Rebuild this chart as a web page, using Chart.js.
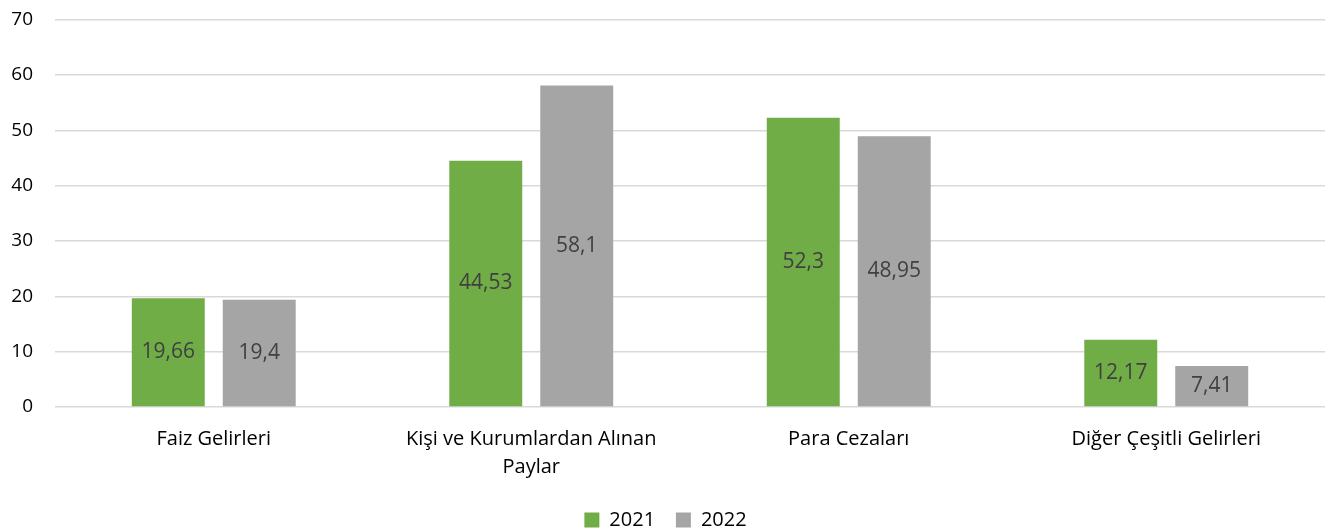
<!DOCTYPE html>
<html>
<head>
<meta charset="utf-8">
<script src="https://cdn.jsdelivr.net/npm/chart.js@4"></script>
<style>
  html, body { margin: 0; padding: 0; background: #fff; overflow: hidden; }
  #wrap { position: relative; top: -7px; width: 1338px; height: 547px; }
</style>
</head>
<body>
<div id="wrap"><canvas id="chart"></canvas></div>
<script>
const categories = ["Faiz Gelirleri", ["Kişi ve Kurumlardan Alınan", "Paylar"], "Para Cezaları", "Diğer Çeşitli Gelirleri"];
const values2021 = [19.66, 44.53, 52.3, 12.17];
const values2022 = [19.4, 58.1, 48.95, 7.41];
const yTicks = [0, 10, 20, 30, 40, 50, 60, 70];

const FONT = "'Open Sans', 'Noto Sans', sans-serif";

// Draws the value in the middle of each bar, comma as decimal mark
const barLabels = {
    id: "barLabels",
    afterDatasetsDraw(chart) {
        const ctx = chart.ctx;
        ctx.save();
        ctx.font = "21px " + FONT;
        ctx.fillStyle = "#404040";
        ctx.textAlign = "center";
        ctx.textBaseline = "middle";
        chart.data.datasets.forEach((ds, i) => {
            chart.getDatasetMeta(i).data.forEach((bar, j) => {
                const txt = String(ds.data[j]).replace(".", ",");
                ctx.fillText(txt, bar.x, (bar.y + bar.base) / 2);
            });
        });
        ctx.restore();
    },
};

new Chart("chart", {
    type: "bar",
    data: {
        labels: categories,
        datasets: [{
            label: "2021",
            data: values2021,
            backgroundColor: "#70ad47",
        }, {
            label: "2022",
            data: values2022,
            backgroundColor: "#a5a5a5",
        }],
    },
    options: {
        responsive: true,
        maintainAspectRatio: false,
        animation: false,
        categoryPercentage: 0.573,
        barPercentage: 0.802,
        layout: { padding: { top: 0, right: 13, left: 6, bottom: 0 } },
        scales: {
            x: {
                grid: { display: false },
                border: { display: false },
                ticks: {
                    color: "#000",
                    font: { family: FONT, size: 20, lineHeight: 1.4 },
                    padding: 10,
                    maxRotation: 0,
                    minRotation: 0,
                },
                afterFit(scale) { scale.height = 103; },
            },
            y: {
                min: 0,
                max: 70,
                afterBuildTicks(scale) { scale.ticks = yTicks.map(v => ({ value: v })); },
                grid: { color: "#d9d9d9", lineWidth: 1.6, drawTicks: false },
                border: { display: false },
                ticks: {
                    color: "#000",
                    font: { family: FONT, size: 19, lineHeight: 0.5 },
                    padding: 22,
                },
                afterFit(scale) { scale.width = 49; },
            },
        },
        plugins: {
            legend: {
                position: "bottom",
                labels: {
                    color: "#000",
                    font: { family: FONT, size: 20, lineHeight: 1 },
                    boxWidth: 15,
                    boxHeight: 15,
                    padding: 0,
                    // pad the gap between the two entries
                    generateLabels(chart) {
                        const items = Chart.defaults.plugins.legend.labels.generateLabels(chart);
                        items.forEach((it, i) => {
                            if (i < items.length - 1) it.text += "    ";
                        });
                        return items;
                    },
                },
            },
            tooltip: { enabled: false },
        },
    },
    plugins: [barLabels],
});
</script>
</body>
</html>
